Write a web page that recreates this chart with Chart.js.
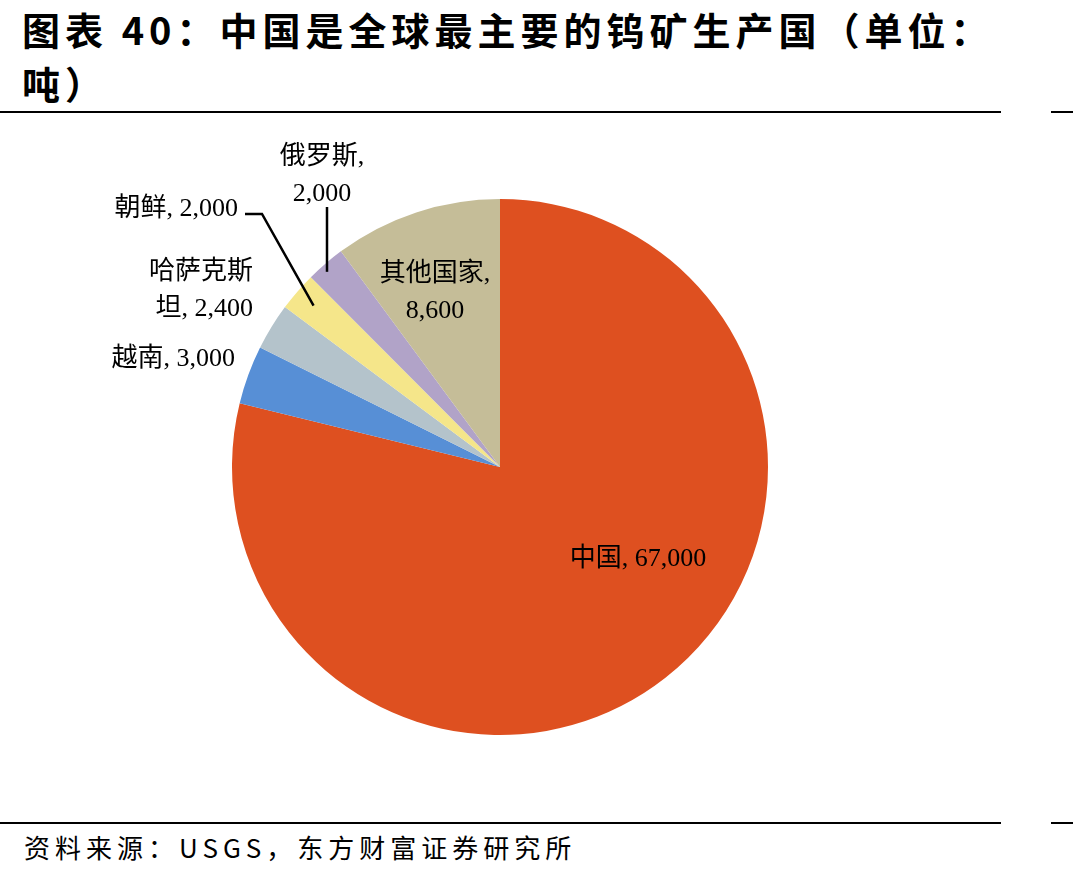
<!DOCTYPE html>
<html>
<head>
<meta charset="utf-8">
<script src="https://cdn.jsdelivr.net/npm/chart.js@4/dist/chart.umd.min.js"></script>
<style>
  body { margin: 0; background: #fff; width: 1073px; height: 876px; position: relative; overflow: hidden; }
  #title { position: absolute; left: 22px; top: 2px; font: bold 38px "Noto Sans CJK SC", sans-serif; line-height: 54px; letter-spacing: 5px; color: #000; }
  .rule { position: absolute; height: 2px; background: #000; }
  #source { position: absolute; left: 24px; top: 828px; font: 26px "Noto Sans CJK SC", sans-serif; letter-spacing: 5px; color: #000; }
  #wrap { position: absolute; left: 0; top: 120px; width: 1000px; height: 700px; }
</style>
</head>
<body>
<div id="title">图表 40：中国是全球最主要的钨矿生产国（单位：<br>吨）</div>
<div class="rule" style="left:0;top:111px;width:1001px"></div>
<div class="rule" style="left:1051px;top:111px;width:22px"></div>
<div id="wrap"><canvas id="pieChart"></canvas></div>
<div class="rule" style="left:0;top:822px;width:1001px"></div>
<div class="rule" style="left:1051px;top:822px;width:22px"></div>
<div id="source">资料来源：USGS，东方财富证券研究所</div>
<script>
// production by country, tonnes
const countries = ['中国', '越南', '哈萨克斯坦', '朝鲜', '俄罗斯', '其他国家'];
const output = [67000, 3000, 2400, 2000, 2000, 8600];
const colors = ['#DE5020', '#578FD6', '#B4C3CB', '#F5E68A', '#B1A3C8', '#C5BD98'];

// label text lines and placement relative to pie centre (dx, dy, align)
const labelLines = [
  ['中国, 67,000'],
  ['越南, 3,000'],
  ['哈萨克斯', '坦, 2,400'],
  ['朝鲜, 2,000'],
  ['俄罗斯,', '2,000'],
  ['其他国家,', '8,600']
];
const labelPos = [
  { dx: 138, dy: 92, align: 'center' },
  { dx: -265, dy: -108, align: 'right' },
  { dx: -247, dy: -195, align: 'right' },
  { dx: -262, dy: -258, align: 'right' },
  { dx: -178, dy: -310, align: 'center' },
  { dx: -65, dy: -193, align: 'center' }
];
// leader lines: [elbow point relative to centre] -> slice edge
const leaders = {
  3: { from: [-255, -253], elbow: [-238, -253], r: 0.92 },
  4: { from: [-173, -260], elbow: null, r: 0.96 }
};

const fmtFont = '26px "Liberation Serif", "Times New Roman", "Noto Sans CJK SC", serif';

const labelPlugin = {
  id: 'sliceLabels',
  afterDraw(chart) {
    const ctx = chart.ctx;
    const arcs = chart.getDatasetMeta(0).data;
    const cx = arcs[0].x, cy = arcs[0].y;
    ctx.save();
    ctx.font = fmtFont;
    ctx.fillStyle = '#000';
    ctx.textBaseline = 'middle';
    labelLines.forEach((lines, i) => {
      const p = labelPos[i];
      ctx.textAlign = p.align;
      lines.forEach((t, j) => ctx.fillText(t, cx + p.dx, cy + p.dy + j * 37));
    });
    ctx.strokeStyle = '#000';
    ctx.lineWidth = 2.5;
    Object.keys(leaders).forEach(k => {
      const arc = arcs[k];
      const L = leaders[k];
      const mid = (arc.startAngle + arc.endAngle) / 2;
      let ex = cx + Math.cos(mid) * arc.outerRadius * L.r;
      let ey = cy + Math.sin(mid) * arc.outerRadius * L.r;
      ctx.beginPath();
      ctx.moveTo(cx + L.from[0], cy + L.from[1]);
      if (L.elbow) ctx.lineTo(cx + L.elbow[0], cy + L.elbow[1]);
      else ex = cx + L.from[0];
      ctx.lineTo(ex, ey);
      ctx.stroke();
    });
    ctx.restore();
  }
};

const ctx = document.getElementById('pieChart').getContext('2d');
new Chart(ctx, {
  type: 'pie',
  data: {
    labels: countries,
    datasets: [{
      data: output,
      backgroundColor: colors,
      borderWidth: 0
    }]
  },
  options: {
    responsive: true,
    maintainAspectRatio: false,
    animation: false,
    layout: { padding: { top: 79, bottom: 85, left: 0, right: 0 } },
    plugins: { legend: { display: false }, tooltip: { enabled: false } }
  },
  plugins: [labelPlugin]
});
</script>
</body>
</html>
